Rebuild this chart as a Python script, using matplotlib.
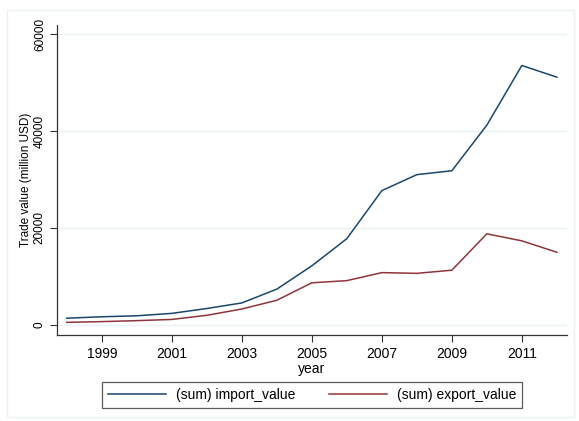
import matplotlib.pyplot as plt
from matplotlib.patches import Rectangle
from matplotlib.lines import Line2D

plt.rcParams['font.family'] = ['Liberation Sans', 'DejaVu Sans']

years = list(range(1998, 2013))
import_value = [1400, 1700, 1900, 2400, 3400, 4550, 7400, 12200, 17800,
                27700, 31000, 31800, 41200, 53500, 51100]
export_value = [550, 700, 900, 1150, 2000, 3300, 5100, 8700, 9150,
                10800, 10650, 11300, 18800, 17350, 15000]

navy = '#1a476f'
maroon = '#90353b'
grid_col = '#eaf2f3'

W, H = 579, 421
fig = plt.figure(figsize=(W / 100, H / 100), dpi=100)
fig.patches.append(Rectangle((7 / W, 4 / H), 567 / W, 407 / H, transform=fig.transFigure,
                             fill=False, edgecolor=grid_col, lw=1))

ax = fig.add_axes([57 / W, 1 - 335 / H, 510 / W, 310 / H])
ax.plot(years, import_value, color=navy, lw=1.1, label='(sum) import_value')
ax.plot(years, export_value, color=maroon, lw=1.1, label='(sum) export_value')

ax.set_xlim(1997.72, 2012.29)
ax.set_ylim(-2060, 61850)
ax.set_yticks([0, 20000, 40000, 60000])
ax.set_xticks([1999, 2001, 2003, 2005, 2007, 2009, 2011])
ax.grid(axis='y', color=grid_col, lw=1)
ax.set_axisbelow(True)
for s in ['top', 'right']:
    ax.spines[s].set_visible(False)
for s in ['left', 'bottom']:
    ax.spines[s].set_color('#333333')
    ax.spines[s].set_linewidth(0.9)
ax.tick_params(axis='y', labelsize=8.5, length=5, width=0.8, color='#333333', pad=3)
ax.tick_params(axis='x', labelsize=10, length=5, width=0.8, color='#333333', pad=4)
for lab in ax.get_yticklabels():
    lab.set_rotation(90)
    lab.set_va('center')
ax.set_xlabel('year', fontsize=10, labelpad=0)
ax.set_ylabel('Trade value (million USD)', fontsize=8.5, labelpad=1.5)

handles = [Line2D([], [], color=navy, lw=1.1), Line2D([], [], color=maroon, lw=1.1)]
leg = fig.legend(handles, ['(sum) import_value', '(sum) export_value'],
                 loc='center', bbox_to_anchor=(312 / W, 1 - 395 / H), ncol=2,
                 fontsize=10, frameon=True, fancybox=False, handlelength=4.2,
                 columnspacing=2.4, borderpad=0.45, handletextpad=0.7)
leg.get_frame().set_edgecolor('#333333')
leg.get_frame().set_linewidth(0.9)

fig.savefig('out.png', dpi=100)
